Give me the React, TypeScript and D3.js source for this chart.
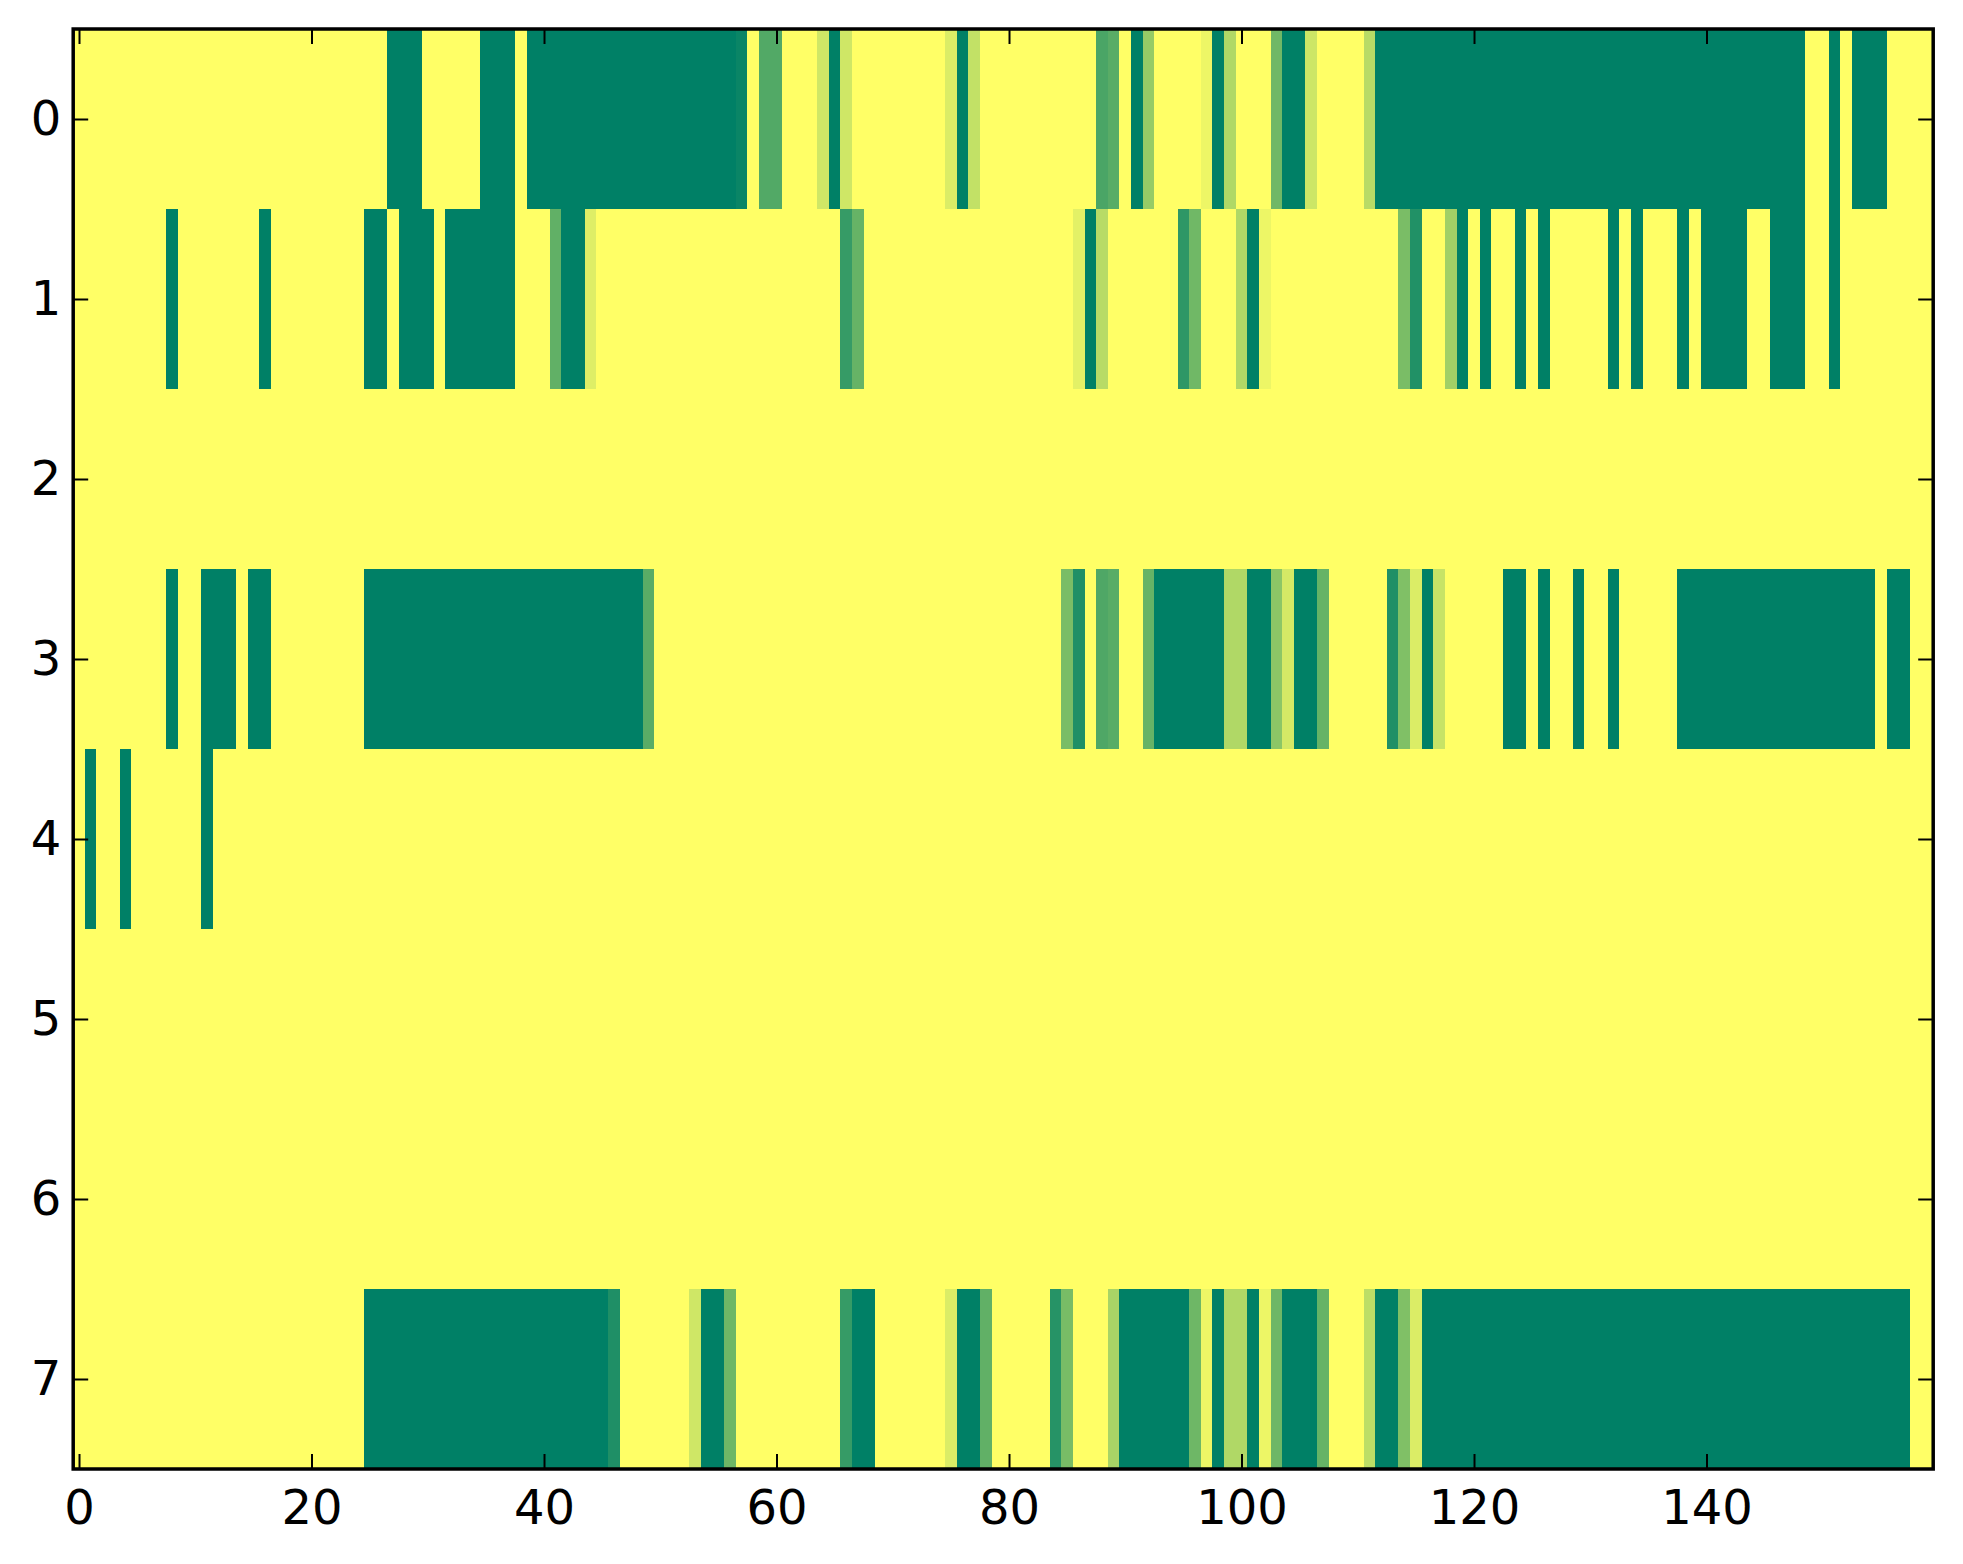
import { useEffect, useRef } from 'react';
import * as d3 from 'd3';

// heatmap values, one array per row (0 = green, 1 = yellow), 160 columns each
const row0 = [
  1, 1, 1, 1, 1, 1, 1, 1, 1, 1, 1, 1, 1, 1, 1, 1, 1, 1, 1, 1,
  1, 1, 1, 1, 1, 1, 1, 0, 0, 0, 1, 1, 1, 1, 1, 0, 0, 0, 1, 0,
  0, 0, 0, 0, 0, 0, 0, 0, 0, 0, 0, 0, 0, 0, 0, 0, 0, 0.04, 1, 0.32,
  0.32, 1, 1, 1, 0.81, 0, 0.81, 1, 1, 1, 1, 1, 1, 1, 1, 0.86, 0, 0.76, 1, 1,
  1, 1, 1, 1, 1, 1, 1, 1, 0.29, 0.35, 1, 0, 0.59, 1, 1, 1, 1, 0.93, 0, 0.69,
  1, 1, 1, 0.44, 0, 0, 0.8, 1, 1, 1, 1, 0.72, 0, 0, 0, 0, 0, 0, 0, 0,
  0, 0, 0, 0, 0, 0, 0, 0, 0, 0, 0, 0, 0, 0, 0, 0, 0, 0, 0, 0,
  0, 0, 0, 0, 0, 0, 0, 0, 0, 1, 1, 0, 1, 0, 0, 0, 1, 1, 1, 1,
];
const row1 = [
  1, 1, 1, 1, 1, 1, 1, 1, 0, 1, 1, 1, 1, 1, 1, 1, 0, 1, 1, 1,
  1, 1, 1, 1, 1, 0, 0, 1, 0, 0, 0, 1, 0, 0, 0, 0, 0, 0, 1, 1,
  1, 0.38, 0, 0, 0.87, 1, 1, 1, 1, 1, 1, 1, 1, 1, 1, 1, 1, 1, 1, 1,
  1, 1, 1, 1, 1, 1, 0.21, 0.4, 1, 1, 1, 1, 1, 1, 1, 1, 1, 1, 1, 1,
  1, 1, 1, 1, 1, 1, 0.89, 0, 0.72, 1, 1, 1, 1, 1, 1, 0.18, 0.44, 1, 1, 1,
  0.69, 0, 0.93, 1, 1, 1, 1, 1, 1, 1, 1, 1, 1, 1, 0.48, 0.13, 1, 1, 0.63, 0,
  1, 0, 1, 1, 0, 1, 0, 1, 1, 1, 1, 1, 0, 1, 0, 1, 1, 1, 0, 1,
  0, 0, 0, 0, 1, 1, 0, 0, 0, 1, 1, 0, 1, 1, 1, 1, 1, 1, 1, 1,
];
const row2 = [
  1, 1, 1, 1, 1, 1, 1, 1, 1, 1, 1, 1, 1, 1, 1, 1, 1, 1, 1, 1,
  1, 1, 1, 1, 1, 1, 1, 1, 1, 1, 1, 1, 1, 1, 1, 1, 1, 1, 1, 1,
  1, 1, 1, 1, 1, 1, 1, 1, 1, 1, 1, 1, 1, 1, 1, 1, 1, 1, 1, 1,
  1, 1, 1, 1, 1, 1, 1, 1, 1, 1, 1, 1, 1, 1, 1, 1, 1, 1, 1, 1,
  1, 1, 1, 1, 1, 1, 1, 1, 1, 1, 1, 1, 1, 1, 1, 1, 1, 1, 1, 1,
  1, 1, 1, 1, 1, 1, 1, 1, 1, 1, 1, 1, 1, 1, 1, 1, 1, 1, 1, 1,
  1, 1, 1, 1, 1, 1, 1, 1, 1, 1, 1, 1, 1, 1, 1, 1, 1, 1, 1, 1,
  1, 1, 1, 1, 1, 1, 1, 1, 1, 1, 1, 1, 1, 1, 1, 1, 1, 1, 1, 1,
];
const row3 = [
  1, 1, 1, 1, 1, 1, 1, 1, 0, 1, 1, 0, 0, 0, 1, 0, 0, 1, 1, 1,
  1, 1, 1, 1, 1, 0, 0, 0, 0, 0, 0, 0, 0, 0, 0, 0, 0, 0, 0, 0,
  0, 0, 0, 0, 0, 0, 0, 0, 0, 0.35, 1, 1, 1, 1, 1, 1, 1, 1, 1, 1,
  1, 1, 1, 1, 1, 1, 1, 1, 1, 1, 1, 1, 1, 1, 1, 1, 1, 1, 1, 1,
  1, 1, 1, 1, 1, 0.48, 0.12, 1, 0.31, 0.35, 1, 1, 0.4, 0, 0, 0, 0, 0, 0, 0.69,
  0.69, 0, 0, 0.55, 0.83, 0, 0, 0.4, 1, 1, 1, 1, 1, 0.12, 0.5, 0.86, 0, 0.78, 1, 1,
  1, 1, 1, 0, 0, 1, 0, 1, 1, 0, 1, 1, 0, 1, 1, 1, 1, 1, 0, 0,
  0, 0, 0, 0, 0, 0, 0, 0, 0, 0, 0, 0, 0, 0, 0, 1, 0, 0, 1, 1,
];
const row4 = [
  1, 0, 1, 1, 0, 1, 1, 1, 1, 1, 1, 0, 1, 1, 1, 1, 1, 1, 1, 1,
  1, 1, 1, 1, 1, 1, 1, 1, 1, 1, 1, 1, 1, 1, 1, 1, 1, 1, 1, 1,
  1, 1, 1, 1, 1, 1, 1, 1, 1, 1, 1, 1, 1, 1, 1, 1, 1, 1, 1, 1,
  1, 1, 1, 1, 1, 1, 1, 1, 1, 1, 1, 1, 1, 1, 1, 1, 1, 1, 1, 1,
  1, 1, 1, 1, 1, 1, 1, 1, 1, 1, 1, 1, 1, 1, 1, 1, 1, 1, 1, 1,
  1, 1, 1, 1, 1, 1, 1, 1, 1, 1, 1, 1, 1, 1, 1, 1, 1, 1, 1, 1,
  1, 1, 1, 1, 1, 1, 1, 1, 1, 1, 1, 1, 1, 1, 1, 1, 1, 1, 1, 1,
  1, 1, 1, 1, 1, 1, 1, 1, 1, 1, 1, 1, 1, 1, 1, 1, 1, 1, 1, 1,
];
const row5 = [
  1, 1, 1, 1, 1, 1, 1, 1, 1, 1, 1, 1, 1, 1, 1, 1, 1, 1, 1, 1,
  1, 1, 1, 1, 1, 1, 1, 1, 1, 1, 1, 1, 1, 1, 1, 1, 1, 1, 1, 1,
  1, 1, 1, 1, 1, 1, 1, 1, 1, 1, 1, 1, 1, 1, 1, 1, 1, 1, 1, 1,
  1, 1, 1, 1, 1, 1, 1, 1, 1, 1, 1, 1, 1, 1, 1, 1, 1, 1, 1, 1,
  1, 1, 1, 1, 1, 1, 1, 1, 1, 1, 1, 1, 1, 1, 1, 1, 1, 1, 1, 1,
  1, 1, 1, 1, 1, 1, 1, 1, 1, 1, 1, 1, 1, 1, 1, 1, 1, 1, 1, 1,
  1, 1, 1, 1, 1, 1, 1, 1, 1, 1, 1, 1, 1, 1, 1, 1, 1, 1, 1, 1,
  1, 1, 1, 1, 1, 1, 1, 1, 1, 1, 1, 1, 1, 1, 1, 1, 1, 1, 1, 1,
];
const row6 = [
  1, 1, 1, 1, 1, 1, 1, 1, 1, 1, 1, 1, 1, 1, 1, 1, 1, 1, 1, 1,
  1, 1, 1, 1, 1, 1, 1, 1, 1, 1, 1, 1, 1, 1, 1, 1, 1, 1, 1, 1,
  1, 1, 1, 1, 1, 1, 1, 1, 1, 1, 1, 1, 1, 1, 1, 1, 1, 1, 1, 1,
  1, 1, 1, 1, 1, 1, 1, 1, 1, 1, 1, 1, 1, 1, 1, 1, 1, 1, 1, 1,
  1, 1, 1, 1, 1, 1, 1, 1, 1, 1, 1, 1, 1, 1, 1, 1, 1, 1, 1, 1,
  1, 1, 1, 1, 1, 1, 1, 1, 1, 1, 1, 1, 1, 1, 1, 1, 1, 1, 1, 1,
  1, 1, 1, 1, 1, 1, 1, 1, 1, 1, 1, 1, 1, 1, 1, 1, 1, 1, 1, 1,
  1, 1, 1, 1, 1, 1, 1, 1, 1, 1, 1, 1, 1, 1, 1, 1, 1, 1, 1, 1,
];
const row7 = [
  1, 1, 1, 1, 1, 1, 1, 1, 1, 1, 1, 1, 1, 1, 1, 1, 1, 1, 1, 1,
  1, 1, 1, 1, 1, 0, 0, 0, 0, 0, 0, 0, 0, 0, 0, 0, 0, 0, 0, 0,
  0, 0, 0, 0, 0, 0, 0.12, 1, 1, 1, 1, 1, 1, 0.81, 0, 0, 0.43, 1, 1, 1,
  1, 1, 1, 1, 1, 1, 0.21, 0, 0, 1, 1, 1, 1, 1, 1, 0.86, 0, 0, 0.38, 1,
  1, 1, 1, 1, 0.15, 0.47, 1, 1, 1, 0.66, 0, 0, 0, 0, 0, 0, 0.43, 0.93, 0, 0.69,
  0.69, 0, 0.93, 0.43, 0, 0, 0, 0.4, 1, 1, 1, 0.74, 0, 0, 0.5, 0.86, 0, 0, 0, 0,
  0, 0, 0, 0, 0, 0, 0, 0, 0, 0, 0, 0, 0, 0, 0, 0, 0, 0, 0, 0,
  0, 0, 0, 0, 0, 0, 0, 0, 0, 0, 0, 0, 0, 0, 0, 0, 0, 0, 1, 1,
];

const rows = [row0, row1, row2, row3, row4, row5, row6, row7];
const xTicks = [0, 20, 40, 60, 80, 100, 120, 140];
const yTicks = [0, 1, 2, 3, 4, 5, 6, 7];

// matplotlib "summer" colormap end points
const summer = d3.interpolateRgb('#008066', '#ffff66');

export default function App() {
  const axesRef = useRef<SVGGElement | null>(null);

  const W = 1963;
  const H = 1564;
  const left = 73.2;
  const right = 1933.2;
  const top = 29;
  const bottom = 1469;
  const nCols = row0.length;

  const x = d3.scaleLinear().domain([-0.5, nCols - 0.5]).range([left, right]);
  const y = d3.scaleLinear().domain([-0.5, rows.length - 0.5]).range([top, bottom]);

  useEffect(() => {
    const g = d3.select(axesRef.current);
    g.selectAll('*').remove();
    const font = 'DejaVu Sans';
    const fs = 48;

    // bottom axis with labels, ticks pointing inward
    const bx = g.append('g').attr('transform', `translate(0,${bottom})`)
      .call(d3.axisBottom(x).tickValues(xTicks).tickSize(-15).tickPadding(21));
    // top axis, ticks only
    const tx = g.append('g').attr('transform', `translate(0,${top})`)
      .call(d3.axisTop(x).tickValues(xTicks).tickSize(-15).tickFormat(() => ''));
    // left axis with labels
    const ly = g.append('g').attr('transform', `translate(${left},0)`)
      .call(d3.axisLeft(y).tickValues(yTicks).tickSize(-15).tickPadding(12));
    // right axis, ticks only
    const ry = g.append('g').attr('transform', `translate(${right},0)`)
      .call(d3.axisRight(y).tickValues(yTicks).tickSize(-15).tickFormat(() => ''));

    [bx, tx, ly, ry].forEach((a) => {
      a.select('.domain').remove();
      a.selectAll('line').attr('stroke', '#000').attr('stroke-width', 2);
      a.selectAll('text')
        .attr('font-family', font)
        .attr('font-size', fs)
        .attr('fill', '#000');
    });

    g.append('rect')
      .attr('x', left)
      .attr('y', top)
      .attr('width', right - left)
      .attr('height', bottom - top)
      .attr('fill', 'none')
      .attr('stroke', '#000')
      .attr('stroke-width', 3.5);
  }, []);

  const cw = x(1) - x(0);
  const ch = y(1) - y(0);

  return (
    <svg
      width={W}
      height={H}
      style={{ position: 'absolute', left: 0, top: 0, background: '#fff' }}
    >
      <g shapeRendering="crispEdges">
        {rows.map((row, r) =>
          row.map((v, c) => (
            <rect
              key={`${r}-${c}`}
              x={x(c - 0.5)}
              y={y(r - 0.5)}
              width={cw + 0.5}
              height={ch + 0.5}
              fill={summer(v)}
            />
          ))
        )}
      </g>
      <g ref={axesRef}></g>
    </svg>
  );
}
